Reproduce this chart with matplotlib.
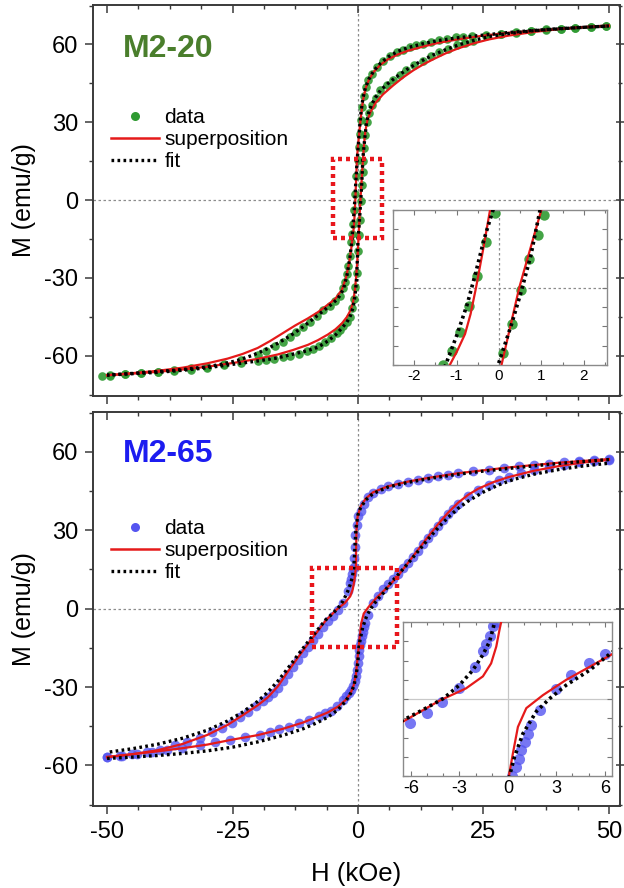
import matplotlib
matplotlib.use("Agg")
import matplotlib.pyplot as plt
from matplotlib.ticker import MultipleLocator, FixedLocator
from matplotlib.lines import Line2D
from matplotlib.patches import Rectangle

plt.rcParams['font.family'] = ['Liberation Sans', 'DejaVu Sans']
plt.rcParams['axes.unicode_minus'] = False

# ---------------- M2-20 (top) ----------------
h20_desc = [49.4, 46.4, 43.3, 40.4, 37.4, 34.4, 31.4, 28.5, 25.5, 22.8, 21.0, 19.5, 17.8, 16.2, 14.5, 12.9,
            11.6, 10.3, 9.0, 7.7, 6.3, 5.0, 3.8, 2.7, 2.0, 1.5, 1.1, 0.8, 0.55, 0.3, 0.1, -0.09, -0.31, -0.51,
            -0.70, -0.91, -1.10, -1.31, -1.6, -1.9, -2.2, -2.5, -2.9, -3.6, -4.5, -5.6, -6.9, -8.2, -9.6, -11.0,
            -12.3, -13.5, -15.0, -16.6, -18.3, -20.0, -23.3, -26.7, -30.0, -33.3, -36.6, -39.9, -43.2, -46.5,
            -49.5, -51.1]
m20_desc = [67.1, 66.7, 66.4, 66.1, 65.8, 65.2, 64.7, 64.2, 63.8, 63.4, 63.0, 62.7, 62.1, 61.6, 60.9, 60.3,
            59.6, 59.0, 58.0, 57.0, 55.4, 53.8, 51.3, 48.7, 46.2, 43.5, 40.0, 36.0, 31.0, 25.5, 20.3, 15.4, 9.3, 2.4,
            -3.9, -9.2, -13.2, -16.0, -21.5, -25.5, -28.5, -31.5, -34.0, -36.8, -38.8, -40.7, -42.5, -44.6, -46.8,
            -49.0, -50.9, -52.6, -54.5, -56.4, -58.2, -59.6, -61.8, -63.3, -64.2, -64.9, -65.6, -66.1, -66.6,
            -67.0, -67.4, -67.6]
h20_asc = [-49.5, -46.5, -43.2, -39.9, -36.6, -33.3, -30.0, -26.7, -23.3, -20.0, -18.3, -16.8, -15.0, -13.5,
           -11.8, -10.2, -9.0, -7.8, -6.6, -5.4, -4.2, -3.5, -2.9, -2.2, -1.6, -1.1, -0.8, -0.5, -0.3, -0.1, 0.1,
           0.31, 0.51, 0.72, 0.92, 1.07, 1.25, 1.45, 1.7, 2.1, 2.7, 3.5, 4.4, 5.7, 7.0, 8.3, 9.6, 11.2, 12.9,
           14.5, 16.2, 17.9, 19.7, 21.3, 22.9, 25.5, 28.5, 31.4, 34.4, 37.4, 40.4, 43.3, 46.4, 49.4]
m20_asc = [-67.6, -67.1, -66.8, -66.4, -65.9, -65.3, -64.6, -63.7, -62.9, -62.2, -61.8, -61.3, -60.6, -60.0,
           -59.2, -58.3, -57.4, -56.2, -54.7, -53.1, -51.3, -50.0, -48.7, -47.0, -44.9, -41.5, -38.0, -33.5,
           -28.0, -19.5, -13.6, -7.5, -0.5, 5.9, 10.9, 15.0, 20.0, 25.0, 30.0, 33.5, 36.5, 39.5, 42.3, 44.3, 46.2,
           48.2, 50.0, 52.0, 53.8, 55.5, 57.0, 58.4, 59.6, 60.6, 61.5, 63.3, 64.0, 64.6, 65.1, 65.6, 66.0, 66.3,
           66.6, 67.0]

# superposition (red)
h20_sup_desc = [50, 45, 40, 35, 30, 25, 20, 16, 13, 10, 8, 6, 4.5, 3.2, 2.2, 1.5, 1.0, 0.6, 0.3, 0.0, -0.21,
                -0.37, -0.54, -0.67, -0.8, -0.98, -1.16, -1.4, -1.8, -2.4, -3.2, -4.5, -6.0, -8.0, -10.0, -12.5,
                -13.5, -15.0, -17.5, -20.0, -23.0, -26.0, -30.0, -35.0, -40.0, -45.0, -50.0]
m20_sup_desc = [67.1, 66.6, 66.0, 65.3, 64.5, 63.4, 62.0, 60.6, 59.2, 57.6, 56.2, 54.3, 52.2, 49.6, 46.5, 43.0,
                38.5, 32.5, 27.0, 21.0, 16.0, 8.0, 0.0, -5.5, -9.6, -13.0, -16.0, -19.5, -24.5, -30.0, -34.5,
                -38.0, -40.3, -43.2, -45.6, -48.3, -49.5, -51.3, -54.3, -57.0, -59.3, -61.1, -62.9, -64.6, -65.8,
                -66.7, -67.5]
h20_sup_asc = [-50, -45, -40, -35, -30, -25, -20, -16, -13, -10, -8, -6, -4.5, -3.2, -2.2, -1.5, -1.0, -0.6,
               -0.3, -0.1, 0.06, 0.27, 0.48, 0.74, 1.0, 1.2, 1.5, 1.9, 2.5, 3.5, 5.0, 7.0, 9.0, 11.0, 13.0, 15.0,
               17.5, 20.0, 23.0, 26.0, 30.0, 35.0, 40.0, 45.0, 50.0]
m20_sup_asc = [-67.5, -66.9, -66.2, -65.3, -64.2, -62.8, -61.2, -59.5, -57.8, -55.8, -54.0, -51.8, -49.8,
               -47.5, -45.0, -42.5, -39.5, -34.5, -28.0, -22.0, -16.0, -8.0, 0.0, 8.0, 16.0, 21.5, 27.0, 31.0,
               34.0, 37.5, 40.8, 44.2, 47.3, 50.0, 52.3, 54.3, 56.6, 58.5, 60.4, 61.9, 63.4, 64.8, 65.9, 66.7,
               67.3]

# fit (black dotted)
h20_fit_desc = [50, 45, 40, 35, 30, 25, 20, 16, 13, 10, 8, 6, 4.5, 3.2, 2.2, 1.5, 1.0, 0.6, 0.3, 0.05, -0.14,
                -0.35, -0.55, -0.75, -1.0, -1.26, -1.6, -2.2, -2.9, -4.0, -5.5, -7, -9, -11, -13.5, -16, -18.5,
                -21, -24, -27, -30, -35, -40, -45, -50]
m20_fit_desc = [67.1, 66.6, 66.1, 65.4, 64.6, 63.6, 62.6, 61.5, 60.3, 58.8, 57.4, 55.2, 52.8, 50.0, 46.8,
                43.5, 39.5, 34.0, 27.5, 21.0, 16.0, 10.0, 3.0, -3.5, -10.0, -16.0, -22.0, -29.0, -34.3, -38.0,
                -40.5, -42.8, -45.9, -48.9, -52.3, -55.2, -57.7, -59.8, -61.8, -63.2, -64.2, -65.3, -66.1, -66.8,
                -67.4]
h20_fit_asc = [-50, -45, -40, -35, -30, -25, -20, -16, -13, -10, -8, -6, -4.5, -3.2, -2.2, -1.5, -1.0, -0.6,
               -0.3, -0.1, -0.02, 0.3, 0.52, 0.75, 0.97, 1.3, 1.7, 2.1, 2.7, 3.5, 4.5, 6, 8, 10, 12.5, 15, 17.5,
               20, 23, 26, 30, 35, 40, 45, 50]
m20_fit_asc = [-67.5, -66.9, -66.4, -65.6, -64.6, -63.3, -62.0, -60.8, -59.4, -58.0, -56.7, -54.3, -52.0,
               -49.3, -47.0, -44.5, -41.5, -37.0, -31.0, -21.5, -16.0, -7.5, -1.0, 6.5, 16.0, 23.0, 30.0, 33.5,
               36.8, 39.6, 42.4, 45.0, 48.0, 50.7, 53.5, 56.0, 58.0, 59.8, 61.5, 63.0, 64.2, 65.3, 66.0, 66.6,
               67.1]

# ---------------- M2-65 (bottom) ----------------
h65_desc = [50.0, 47.0, 44.0, 41.0, 38.0, 35.0, 32.0, 29.0, 26.0, 23.0, 20.0, 18.0, 16.0, 14.0, 12.0, 10.0,
            8.0, 6.0, 4.5, 3.0, 2.0, 1.2, 0.5, 0.0, -0.3, -0.5, -0.65, -0.75, -0.83, -0.93, -1.14, -1.35, -1.55,
            -2.01, -3.04, -4.08, -5.03, -6.07, -7.0, -8.0, -9.0, -10.0, -11.0, -12.0, -13.0, -14.0, -15.0, -16.0,
            -17.0, -18.0, -19.0, -20.4, -22.0, -23.5, -25.1, -27.0, -29.0, -31.5, -34.0, -36.5, -39.4, -42.0,
            -45.0, -47.5, -50.0]
m65_desc = [57.2, 56.9, 56.5, 56.0, 55.5, 55.0, 54.4, 53.8, 53.2, 52.5, 51.8, 51.2, 50.6, 50.0, 49.3, 48.6,
            47.8, 46.8, 45.8, 44.2, 42.5, 40.0, 37.5, 35.5, 32.0, 28.0, 23.5, 19.5, 15.9, 15.1, 13.1, 11.4, 9.9,
            6.6, 2.2, -0.6, -3.0, -4.9, -7.2, -9.6, -12.0, -14.5, -17.0, -19.6, -22.3, -25.0, -27.8, -30.3, -32.2,
            -33.9, -35.5, -37.3, -39.7, -41.5, -43.7, -45.5, -47.3, -49.4, -50.9, -52.3, -53.9, -54.8, -55.6,
            -56.2, -56.7]
h65_asc = [-50.0, -47.0, -44.0, -41.0, -38.0, -35.0, -31.5, -28.5, -25.5, -22.5, -19.6, -17.5, -15.7, -13.7,
           -11.7, -9.7, -7.7, -6.5, -5.4, -4.2, -3.0, -2.3, -1.8, -1.4, -1.0, -0.6, -0.4, -0.2, 0.0, 0.15, 0.27,
           0.48, 0.68, 0.83, 1.04, 1.24, 1.45, 1.97, 3.0, 3.93, 5.01, 6.0, 7.0, 8.0, 9.0, 10.0, 11.0, 12.0, 13.0,
           14.0, 15.0, 16.0, 17.0, 18.0, 19.0, 20.0, 22.0, 24.0, 26.0, 28.0, 30.0, 32.5, 35.0, 38.0, 41.0, 44.0,
           47.0, 50.0]
m65_asc = [-56.9, -56.2, -55.5, -54.8, -54.1, -53.3, -52.1, -51.1, -50.1, -49.1, -48.2, -47.3, -46.2, -45.1,
           -43.9, -42.6, -41.1, -40.1, -39.1, -37.3, -34.8, -33.3, -32.2, -31.0, -29.7, -27.5, -25.9, -23.5,
           -20.8, -18.2, -16.0, -14.1, -12.4, -10.6, -8.9, -7.2, -5.4, -2.3, 2.0, 5.0, 7.4, 9.4, 11.2, 13.2, 15.4,
           17.6, 19.9, 22.2, 24.6, 27.0, 29.4, 31.7, 34.0, 36.2, 38.2, 40.0, 43.0, 45.4, 47.4, 49.0, 50.4, 51.8,
           53.0, 54.2, 55.1, 55.9, 56.5, 57.0]

h65_sup_desc = [50, 40, 30, 20, 14, 10, 6, 3, 1.5, 0.5, -0.1, -0.3, -0.38, -0.41, -0.52, -0.72, -1.04, -1.55,
                -2.6, -4.24, -6.5, -8, -10, -12, -14, -16, -18, -20, -23, -26, -30, -35, -40, -45, -50]
m65_sup_desc = [57.2, 55.8, 54.0, 51.8, 50.0, 48.6, 46.8, 44.5, 42.0, 39.0, 35.0, 30.0, 22.0, 16.1, 14.4,
                10.9, 7.4, 4.7, 2.2, -0.35, -4.7, -8.6, -13.6, -18.8, -24.2, -29.8, -34.0, -37.0, -40.8, -44.5,
                -48.3, -51.8, -54.2, -55.7, -56.7]
h65_sup_asc = [-50, -45, -40, -35, -30, -25, -20, -15, -11, -8, -6, -4, -2.5, -1.5, -0.8, -0.4, -0.2, 0.06,
               0.31, 0.62, 1.14, 2.17, 3.62, 5.07, 6.4, 8, 10, 12, 14, 16, 18, 20, 22, 24, 27, 30, 35, 40, 45, 50]
m65_sup_asc = [-56.9, -55.7, -54.6, -53.4, -52.0, -50.1, -48.4, -46.0, -43.6, -41.3, -39.7, -37.5, -35.0,
               -32.5, -29.0, -25.0, -21.0, -16.0, -11.3, -5.8, -1.9, 0.8, 4.0, 6.7, 9.2, 12.6, 17.6, 22.6, 27.6,
               32.4, 36.8, 40.6, 43.6, 45.9, 48.4, 50.3, 52.7, 54.5, 55.9, 56.9]

h65_fit_desc = [50, 45, 40, 35, 30, 25, 20, 15, 10, 6, 3, 1.5, 0.5, 0, -0.4, -0.6, -0.83, -1.14, -1.55, -2.17,
                -3.0, -4.0, -5.3, -6.5, -8, -10, -12, -14, -16, -18, -20, -23, -26, -30, -35, -40, -45, -50]
m65_fit_desc = [57.0, 56.3, 55.5, 54.6, 53.6, 52.6, 51.4, 50.0, 48.3, 46.5, 44.0, 41.5, 38.5, 36.0, 31.0, 24.0,
                15.8, 11.9, 9.2, 6.0, 2.9, 0.1, -2.3, -4.4, -8.0, -12.8, -17.8, -22.9, -27.8, -32.0, -35.5, -39.6,
                -43.0, -46.5, -49.6, -51.9, -53.6, -55.0]
h65_fit_asc = [-50, -45, -40, -35, -30, -25, -20, -15, -11, -8, -6, -4, -2.5, -1.5, -0.8, -0.3, 0.0, 0.1, 0.41,
               0.93, 1.76, 2.59, 3.62, 5.07, 6.4, 8, 10, 12, 14, 16, 18, 20, 22, 25, 28, 31, 35, 40, 45, 50]
m65_fit_asc = [-57.3, -56.8, -56.2, -55.4, -54.4, -53.0, -51.0, -48.5, -46.0, -43.5, -41.5, -38.7, -35.5,
               -32.5, -29.5, -24.5, -20.0, -16.0, -12.0, -7.2, -2.6, 0.1, 2.9, 6.0, 9.6, 13.0, 17.4, 22.0, 26.6,
               31.0, 35.0, 38.4, 41.2, 44.6, 47.3, 49.4, 51.4, 53.2, 54.6, 55.6]

# highlight boxes (H range, M range)
box20_h = [-5.0, 4.75]
box20_m = [-14.6, 16.0]
box65_h = [-9.1, 7.7]
box65_m = [-14.5, 15.7]

x_major = [-50, -25, 0, 25, 50]
y_major = [-60, -30, 0, 30, 60]

# ---------------- figure ----------------
W, H = 624, 888
fig = plt.figure(figsize=(W / 100, H / 100), dpi=100)

def fb(l, t, r, b):
    return [l / W, 1 - b / H, (r - l) / W, (b - t) / H]

ax1 = fig.add_axes(fb(93, 5, 619.5, 396))
ax2 = fig.add_axes(fb(93, 412, 619.5, 806))
in1 = fig.add_axes(fb(393, 210, 607, 365))
in2 = fig.add_axes(fb(403, 622, 612, 776))

spine_c = '#3a3a3a'
red = '#e51a1a'
green = '#2f9a32'
blue = '#5555f0'
zero_c = '#8c8c8c'
dotted = (0, (0.8, 1.0))


def style_main(ax, show_xlabels):
    ax.set_xlim(-52.8, 52.1)
    ax.set_ylim(-75.5, 75.2)
    for s in ax.spines.values():
        s.set_color(spine_c)
        s.set_linewidth(1.4)
    ax.xaxis.set_major_locator(FixedLocator(x_major))
    ax.xaxis.set_minor_locator(MultipleLocator(6.25))
    ax.yaxis.set_major_locator(FixedLocator(y_major))
    ax.yaxis.set_minor_locator(MultipleLocator(15))
    ax.tick_params(axis='x', which='major', direction='out', length=5.5, width=1.1, color=spine_c,
                   labelsize=17, pad=5, labelbottom=show_xlabels)
    ax.tick_params(axis='x', which='minor', direction='out', length=3, width=1.0, color=spine_c)
    ax.tick_params(axis='y', which='major', direction='out', length=5.5, width=1.1, color=spine_c,
                   labelsize=17, pad=5)
    ax.tick_params(axis='y', which='minor', direction='out', length=3, width=1.0, color=spine_c)
    top = ax.secondary_xaxis('top')
    top.xaxis.set_major_locator(FixedLocator(x_major))
    top.xaxis.set_minor_locator(MultipleLocator(6.25))
    top.tick_params(which='major', direction='in', length=5.5, width=1.1, color=spine_c, labeltop=False)
    top.tick_params(which='minor', direction='in', length=3, width=1.0, color=spine_c)
    top.spines['top'].set_visible(False)
    right = ax.secondary_yaxis('right')
    right.yaxis.set_major_locator(FixedLocator(y_major))
    right.yaxis.set_minor_locator(MultipleLocator(15))
    right.tick_params(which='major', direction='inout', length=6, width=1.1, color=spine_c, labelright=False)
    right.tick_params(which='minor', direction='inout', length=3.5, width=1.0, color=spine_c)
    right.spines['right'].set_visible(False)
    ax.axhline(0, color=zero_c, lw=0.9, ls=(0, (2, 2)), zorder=0)
    ax.axvline(0, color=zero_c, lw=0.9, ls=(0, (2, 2)), zorder=0)
    ax.set_ylabel('M (emu/g)', fontsize=18, labelpad=6)


def draw(ax, dh, dm, ah, am, sdh, sdm, sah, sam, fdh, fdm, fah, fam, mc, ms, malpha, lw_r, lw_f):
    ax.plot(dh, dm, 'o', color=mc, ms=ms, alpha=malpha, mec='none', zorder=2)
    ax.plot(ah, am, 'o', color=mc, ms=ms, alpha=malpha, mec='none', zorder=2)
    ax.plot(sdh, sdm, '-', color=red, lw=lw_r, zorder=3)
    ax.plot(sah, sam, '-', color=red, lw=lw_r, zorder=3)
    ax.plot(fdh, fdm, color='black', lw=lw_f, ls=dotted, zorder=4)
    ax.plot(fah, fam, color='black', lw=lw_f, ls=dotted, zorder=4)


# top panel
style_main(ax1, False)
draw(ax1, h20_desc, m20_desc, h20_asc, m20_asc, h20_sup_desc, m20_sup_desc, h20_sup_asc, m20_sup_asc,
     h20_fit_desc, m20_fit_desc, h20_fit_asc, m20_fit_asc, green, 6.2, 0.9, 1.6, 2.4)
ax1.add_patch(Rectangle((box20_h[0], box20_m[0]), box20_h[1] - box20_h[0], box20_m[1] - box20_m[0],
                        fill=False, ec='#e8161c', lw=3.2, ls=(0, (0.9, 0.9)), zorder=5))
ax1.text(0.057, 0.887, 'M2-20', transform=ax1.transAxes, fontsize=23, fontweight='bold',
         color='#4a7e2c', ha='left', va='center')

# bottom panel
style_main(ax2, True)
draw(ax2, h65_desc, m65_desc, h65_asc, m65_asc, h65_sup_desc, m65_sup_desc, h65_sup_asc, m65_sup_asc,
     h65_fit_desc, m65_fit_desc, h65_fit_asc, m65_fit_asc, blue, 7.0, 0.8, 1.6, 2.4)
ax2.add_patch(Rectangle((box65_h[0], box65_m[0]), box65_h[1] - box65_h[0], box65_m[1] - box65_m[0],
                        fill=False, ec='#e8161c', lw=3.2, ls=(0, (0.9, 0.9)), zorder=5))
ax2.text(0.057, 0.893, 'M2-65', transform=ax2.transAxes, fontsize=23, fontweight='bold',
         color='#1c1cf0', ha='left', va='center')
ax2.set_xlabel('H (kOe)', fontsize=18.5, labelpad=14)

# legends
for ax, mc, y0 in ((ax1, green, 0.737), (ax2, blue, 0.728)):
    handles = [Line2D([], [], marker='o', ls='none', color=mc, mec='none', ms=6.5),
               Line2D([], [], color=red, lw=1.8),
               Line2D([], [], color='black', lw=2.4, ls=dotted)]
    ax.legend(handles, ['data', 'superposition', 'fit'], loc='upper left', bbox_to_anchor=(0.035, y0),
              frameon=False, fontsize=15, handlelength=2.3, handletextpad=0.25, labelspacing=0.15,
              borderpad=0, borderaxespad=0, numpoints=1)

# insets
def style_inset(ax, xlim, xt, xminor, ylim, ystep, labsize, zero_ls, zero_col):
    ax.set_xlim(*xlim)
    ax.set_ylim(*ylim)
    for s in ax.spines.values():
        s.set_color('#8a8a8a')
        s.set_linewidth(1.0)
    ax.xaxis.set_major_locator(FixedLocator(xt))
    ax.xaxis.set_minor_locator(MultipleLocator(xminor))
    ax.yaxis.set_major_locator(MultipleLocator(ystep))
    ax.tick_params(axis='both', which='both', direction='in', top=True, right=True, color='#777777',
                   width=0.8)
    ax.tick_params(axis='both', which='major', length=3.5)
    ax.tick_params(axis='both', which='minor', length=2.5)
    ax.tick_params(axis='y', labelleft=False)
    ax.tick_params(axis='x', labelsize=labsize, pad=3)
    ax.axhline(0, color=zero_col, lw=0.9, ls=zero_ls, zorder=0)
    ax.axvline(0, color=zero_col, lw=0.9, ls=zero_ls, zorder=0)


style_inset(in1, (-2.5, 2.55), [-2, -1, 0, 1, 2], 0.5, (-16, 16), 4, 11, (0, (2, 2)), '#8c8c8c')
draw(in1, h20_desc, m20_desc, h20_asc, m20_asc, h20_sup_desc, m20_sup_desc, h20_sup_asc, m20_sup_asc,
     h20_fit_desc, m20_fit_desc, h20_fit_asc, m20_fit_asc, green, 7.5, 0.9, 1.6, 2.6)
style_inset(in2, (-6.5, 6.45), [-6, -3, 0, 3, 6], 1.0, (-16, 16), 4, 13, '-', '#c8c8c8')
draw(in2, h65_desc, m65_desc, h65_asc, m65_asc, h65_sup_desc, m65_sup_desc, h65_sup_asc, m65_sup_asc,
     h65_fit_desc, m65_fit_desc, h65_fit_asc, m65_fit_asc, blue, 8.0, 0.8, 1.6, 2.6)

fig.savefig('out.png', dpi=100)
